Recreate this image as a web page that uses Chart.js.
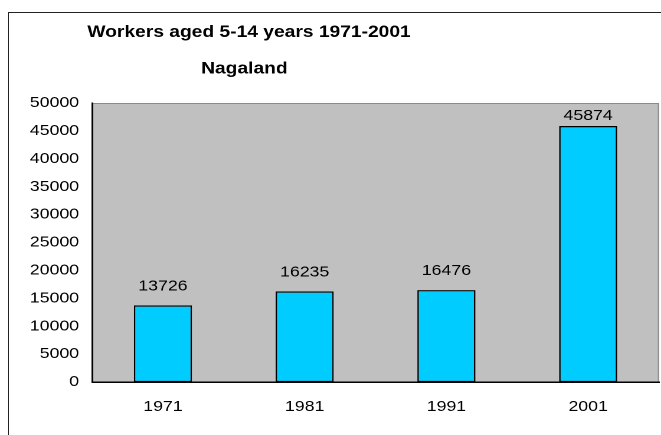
<!DOCTYPE html>
<html>
<head>
<meta charset="utf-8">
<script src="https://cdn.jsdelivr.net/npm/chart.js@4/dist/chart.umd.min.js"></script>
<style>
  html, body { margin: 0; padding: 0; background: #fff; overflow: hidden; width: 661px; height: 435px; }
  #frame { position: absolute; left: 8px; top: 12px; width: 720px; height: 520px;
           border-left: 1.5px solid #222; border-top: 1.5px solid #222; box-sizing: border-box; }
  #wrap { position: absolute; left: 0; top: 0; width: 560px; height: 435px;
          transform: scaleX(1.1804); transform-origin: 0 0; }
</style>
</head>
<body>
<div id="frame"></div>
<div id="wrap"><canvas id="c" width="560" height="435"></canvas></div>
<script>
const titleLines = ['Workers aged 5-14 years 1971-2001', 'Nagaland'];
const categories = ['1971', '1981', '1991', '2001'];
const workers = [13726, 16235, 16476, 45874];
const yMin = 0;
const yMax = 50000;
const yStep = 5000;

const FONT = '"Liberation Sans", Arial, Helvetica, sans-serif';

const plotBg = {
  id: 'plotBg',
  beforeDraw(chart) {
    const { ctx, chartArea: a } = chart;
    ctx.save();
    ctx.fillStyle = '#C0C0C0';
    ctx.fillRect(a.left, a.top, a.right - a.left, a.bottom - a.top);
    ctx.strokeStyle = '#8a8a8a';
    ctx.lineWidth = 1;
    ctx.beginPath();
    ctx.moveTo(a.left, a.top + 0.5);
    ctx.lineTo(a.right - 0.5, a.top + 0.5);
    ctx.lineTo(a.right - 0.5, a.bottom);
    ctx.stroke();
    ctx.restore();
  }
};

const titleDraw = {
  id: 'titleDraw',
  afterDraw(chart) {
    const { ctx } = chart;
    ctx.save();
    ctx.fillStyle = '#000';
    ctx.font = 'bold 16.3px ' + FONT;
    ctx.textAlign = 'center';
    ctx.textBaseline = 'alphabetic';
    const baselines = [37, 73.5];
    const centers = [211, 207];
    titleLines.forEach((t, i) => ctx.fillText(t, centers[i], baselines[i]));
    ctx.restore();
  }
};

const valueLabels = {
  id: 'valueLabels',
  afterDatasetsDraw(chart) {
    const { ctx, chartArea: a } = chart;
    const meta = chart.getDatasetMeta(0);
    ctx.save();
    ctx.fillStyle = '#000';
    ctx.font = '15px ' + FONT;
    ctx.textAlign = 'center';
    ctx.textBaseline = 'alphabetic';
    meta.data.forEach((bar, i) => {
      const y = Math.max(bar.y - 15, a.top + 17);
      ctx.fillText(String(chart.data.datasets[0].data[i]), bar.x, y);
    });
    ctx.restore();
  }
};

new Chart(document.getElementById('c'), {
  type: 'bar',
  data: {
    labels: categories,
    datasets: [{
      data: workers,
      backgroundColor: '#00CCFF',
      borderColor: '#000',
      borderWidth: 1.3,
      borderSkipped: false,
      barPercentage: 0.41,
      categoryPercentage: 1.0
    }]
  },
  options: {
    responsive: false,
    animation: false,
    devicePixelRatio: 2,
    layout: { padding: { left: 0, right: 1.7, top: 103, bottom: 0 } },
    plugins: {
      legend: { display: false },
      title: { display: false },
      tooltip: { enabled: false }
    },
    scales: {
      x: {
        grid: { display: false, drawTicks: false },
        border: { display: true, color: '#000', width: 1.5 },
        ticks: { color: '#000', font: { family: FONT, size: 15 }, padding: 16, maxRotation: 0 },
        afterFit(axis) { axis.height = 53; }
      },
      y: {
        min: yMin,
        max: yMax,
        grid: { display: false, drawTicks: false },
        border: { display: true, color: '#000', width: 1.5 },
        ticks: {
          stepSize: yStep, color: '#000', font: { family: FONT, size: 15 }, padding: 11,
          callback: (v) => String(v)
        },
        afterFit(axis) { axis.width = 78; }
      }
    }
  },
  plugins: [plotBg, titleDraw, valueLabels]
});
</script>
</body>
</html>
